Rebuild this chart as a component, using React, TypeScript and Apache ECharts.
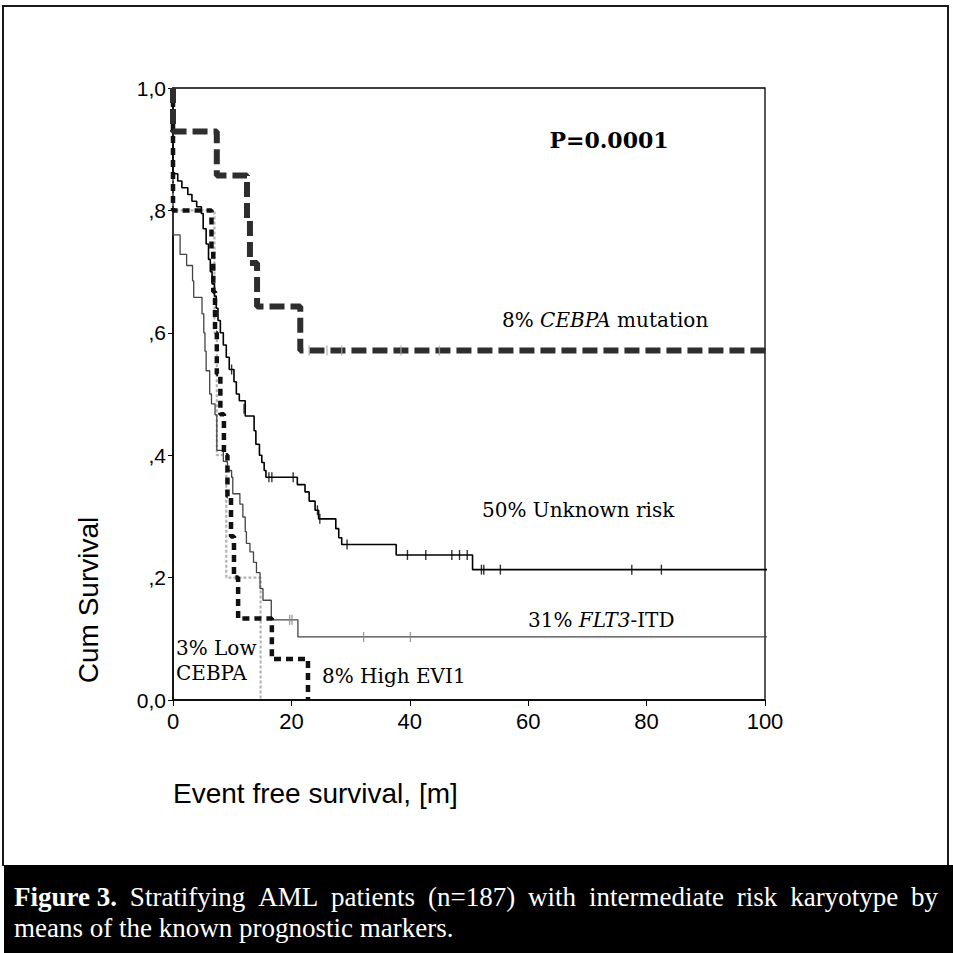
import React, { useEffect, useRef } from "react";
import * as echarts from "echarts";

// ---------------- data ----------------
const xTickValues = [0, 20, 40, 60, 80, 100];
const yTickValues = [0, 0.2, 0.4, 0.6, 0.8, 1.0];
const yTickLabels = ["0,0", ",2", ",4", ",6", ",8", "1,0"];

// 8% CEBPA mutation
const cebpaMutTimes = [0, 0, 7.4, 12.5, 13.0, 14.2, 21.5, 104];
const cebpaMutSurv = [1, 0.929, 0.857, 0.786, 0.714, 0.643, 0.571, 0.571];
const cebpaMutCensorTimes = [23, 26, 28.5, 38.5, 45];
const cebpaMutCensorSurv = [0.571, 0.571, 0.571, 0.571, 0.571];

// 50% Unknown risk
const unknownTimes = [0, 0, 0.8, 1.5, 2.5, 3.2, 4.0, 4.8, 5.1, 5.6, 6.0, 6.3, 6.6, 7.0, 7.3, 7.6, 8.0, 8.5, 9.0, 9.5, 10.3, 10.7, 11.2, 12.2, 13.7, 14.0, 14.6, 15.0, 15.4, 15.7, 21.0, 22.3, 23.0, 24.0, 24.6, 27.5, 28.0, 28.5, 37.7, 50.6, 104];
const unknownSurv = [1, 0.86, 0.848, 0.837, 0.826, 0.815, 0.806, 0.795, 0.77, 0.745, 0.72, 0.70, 0.68, 0.66, 0.64, 0.62, 0.60, 0.58, 0.56, 0.54, 0.52, 0.50, 0.489, 0.464, 0.44, 0.418, 0.40, 0.388, 0.375, 0.364, 0.352, 0.34, 0.325, 0.31, 0.296, 0.28, 0.265, 0.254, 0.237, 0.213, 0.213];
const unknownCensorTimes = [9.9, 12.0, 16.2, 16.7, 20.3, 24.4, 24.8, 29.4, 39.6, 42.7, 47.1, 48.4, 49.7, 52.1, 52.5, 55.3, 77.5, 82.5];
const unknownCensorSurv = [0.54, 0.476, 0.364, 0.364, 0.364, 0.31, 0.296, 0.254, 0.237, 0.237, 0.237, 0.237, 0.237, 0.213, 0.213, 0.213, 0.213, 0.213];

// 31% FLT3-ITD
const flt3Times = [0, 0, 1.2, 2.3, 3.3, 3.5, 4.9, 5.2, 5.4, 5.6, 6.2, 6.5, 7.1, 7.4, 8.5, 9.2, 9.9, 10.1, 11.3, 11.8, 12.2, 12.4, 13.0, 13.6, 14.1, 14.7, 15.2, 16.6, 21.1, 104];
const flt3Surv = [1, 0.76, 0.728, 0.71, 0.685, 0.658, 0.631, 0.60, 0.57, 0.538, 0.50, 0.484, 0.466, 0.408, 0.39, 0.375, 0.364, 0.337, 0.32, 0.299, 0.275, 0.256, 0.242, 0.225, 0.208, 0.182, 0.163, 0.131, 0.103, 0.103];
const flt3CensorTimes = [19.7, 20.1, 32.2, 40.1];
const flt3CensorSurv = [0.131, 0.131, 0.103, 0.103];

// 3% Low CEBPA
const lowCebpaTimes = [0, 0, 7.0, 7.4, 9.0, 14.8];
const lowCebpaSurv = [1, 0.8, 0.6, 0.4, 0.2, 0];

// 8% High EVI1
const evi1Times = [0, 0, 6.5, 6.8, 7.1, 7.4, 8.0, 8.6, 9.2, 9.8, 10.3, 11.0, 16.7, 22.8];
const evi1Surv = [1, 0.8, 0.733, 0.667, 0.6, 0.533, 0.467, 0.4, 0.333, 0.267, 0.2, 0.133, 0.067, 0];

const captionLine1 = ["Figure 3.", "Stratifying", "AML", "patients", "(n=187)", "with", "intermediate", "risk", "karyotype", "by"];
const captionLine2 = "means of the known prognostic markers.";

// ---------------- helpers ----------------
const zip = (a: number[], b: number[]) => a.map((t, i) => [t, b[i]]);

const SERIF = '"DejaVu Serif", serif';
const SANS = '"Liberation Sans", Arial, sans-serif';
const CAP = '"Liberation Serif", "Times New Roman", serif';

function measure(text: string, font: string): number {
  const c = document.createElement("canvas");
  const ctx = c.getContext("2d");
  if (!ctx) return text.length * 11;
  ctx.font = font;
  return ctx.measureText(text).width;
}

function captionGraphics() {
  const left = 14;
  const right = 938;
  const y1 = 897;
  const y2 = 928;
  const fs = 27;
  const boldFont = `bold ${fs}px ${CAP}`;
  const normFont = `${fs}px ${CAP}`;
  const widths = captionLine1.map((w, i) => measure(w, i === 0 ? boldFont : normFont));
  const total = widths.reduce((s, w) => s + w, 0);
  const gap = Math.max(4, (right - left - total) / (captionLine1.length - 1));
  const els: any[] = [];
  let x = left;
  captionLine1.forEach((w, i) => {
    els.push({
      type: "text",
      x,
      y: y1,
      silent: true,
      z: 20,
      style: {
        text: w,
        font: i === 0 ? boldFont : normFont,
        fill: "#fff",
        align: "left",
        verticalAlign: "middle",
        textAlign: "left",
        textVerticalAlign: "middle",
      },
    });
    x += widths[i] + gap;
  });
  els.push({
    type: "text",
    x: left,
    y: y2,
    silent: true,
    z: 20,
    style: {
      text: captionLine2,
      font: normFont,
      fill: "#fff",
      align: "left",
      verticalAlign: "middle",
      textAlign: "left",
      textVerticalAlign: "middle",
    },
  });
  return els;
}

function label(text: string, x: number, y: number, font: string, align = "left", rich?: any, rotation = 0) {
  return {
    type: "text",
    x,
    y,
    rotation,
    silent: true,
    z: 10,
    style: {
      text,
      font,
      fill: "#000",
      align,
      verticalAlign: "middle",
      textAlign: align,
      textVerticalAlign: "middle",
      rich,
    },
  };
}

function frameLine(x1: number, y1: number, x2: number, y2: number) {
  return {
    type: "line",
    silent: true,
    z: 1,
    shape: { x1, y1, x2, y2 },
    style: { stroke: "#1a1a1a", lineWidth: 2 },
  };
}

export default function App() {
  const ref = useRef<HTMLDivElement>(null);

  useEffect(() => {
    if (!ref.current) return;
    const chart = echarts.init(ref.current, undefined, { renderer: "svg" });

    const italicRich = {
      a: { font: `20px ${SERIF}`, fill: "#000" },
      i: { font: `italic 20px ${SERIF}`, fill: "#000" },
    };

    const stepLine = (name: string, data: number[][], lineStyle: any, z = 2) => ({
      name,
      type: "line",
      step: "end",
      data,
      showSymbol: false,
      symbol: "none",
      clip: false,
      z,
      lineStyle,
      emphasis: { disabled: true },
    });

    const censor = (name: string, data: number[][], color: string) => ({
      name,
      type: "scatter",
      data,
      symbol: "rect",
      symbolSize: [1.4, 10],
      itemStyle: { color },
      z: 6,
      silent: true,
    });

    const option: any = {
      animation: false,
      backgroundColor: "#fff",
      grid: {
        left: 173,
        top: 88,
        right: 188,
        bottom: 253,
        show: true,
        borderColor: "#000",
        borderWidth: 1.3,
        backgroundColor: "transparent",
      },
      xAxis: {
        type: "value",
        min: 0,
        max: 100,
        interval: 20,
        axisLine: { show: true, onZero: false, lineStyle: { color: "#000", width: 1.5 } },
        axisTick: { show: true, length: 6, lineStyle: { color: "#000" } },
        splitLine: { show: false },
        axisLabel: {
          color: "#000",
          fontSize: 22,
          fontFamily: SANS,
          margin: 10,
          formatter: (v: number) => (xTickValues.includes(v) ? String(v) : ""),
        },
      },
      yAxis: {
        type: "value",
        min: 0,
        max: 1,
        interval: 0.2,
        axisLine: { show: true, onZero: false, lineStyle: { color: "#000", width: 1.5 } },
        axisTick: { show: true, length: 5, lineStyle: { color: "#000" } },
        splitLine: { show: false },
        axisLabel: {
          color: "#000",
          fontSize: 21,
          fontFamily: SANS,
          margin: 7,
          formatter: (v: number) => {
            const idx = yTickValues.findIndex((t) => Math.abs(t - v) < 1e-6);
            return idx >= 0 ? yTickLabels[idx] : "";
          },
        },
      },
      series: [
        stepLine("3% Low CEBPA", zip(lowCebpaTimes, lowCebpaSurv), { color: "#b4b4b4", width: 2.2, type: [3, 2] }, 2),
        stepLine("31% FLT3-ITD", zip(flt3Times, flt3Surv), { color: "#444444", width: 1.3 }, 3),
        stepLine("50% Unknown risk", zip(unknownTimes, unknownSurv), { color: "#000000", width: 1.6 }, 4),
        stepLine("8% High EVI1", zip(evi1Times, evi1Surv), { color: "#111111", width: 4.5, type: [7, 5] }, 5),
        stepLine("8% CEBPA mutation", zip(cebpaMutTimes, cebpaMutSurv), { color: "#2e2e2e", width: 6, type: [15, 6] }, 5),
        censor("unknown censored", zip(unknownCensorTimes, unknownCensorSurv), "#000"),
        censor("flt3 censored", zip(flt3CensorTimes, flt3CensorSurv), "#888"),
        censor("cebpa censored", zip(cebpaMutCensorTimes, cebpaMutCensorSurv), "#aaa"),
      ],
      graphic: [
        frameLine(3, 6, 948, 6),
        frameLine(3, 5, 3, 866),
        frameLine(948, 5, 948, 866),
        {
          type: "rect",
          silent: true,
          z: 2,
          shape: { x: 4, y: 865, width: 949, height: 88 },
          style: { fill: "#000" },
        },
        ...captionGraphics(),
        label("P=0.0001", 609, 140, `bold 22px ${SERIF}`, "center"),
        label("{a|8% }{i|CEBPA}{a| mutation}", 502, 320, `20px ${SERIF}`, "left", italicRich),
        label("50% Unknown risk", 482, 510, `20px ${SERIF}`),
        label("{a|31% }{i|FLT3}{a|-ITD}", 528, 620, `20px ${SERIF}`, "left", italicRich),
        label("3% Low", 176, 648, `20px ${SERIF}`),
        label("CEBPA", 176, 673, `20px ${SERIF}`),
        label("8% High EVI1", 322, 676, `20px ${SERIF}`),
        label("Event free survival, [m]", 173, 793, `28px ${SANS}`),
        label("Cum Survival", 88, 600, `28px ${SANS}`, "center", undefined, Math.PI / 2),
      ],
    };

    chart.setOption(option);
    return () => chart.dispose();
  }, []);

  return (
    <div
      ref={ref}
      style={{ position: "fixed", left: 0, top: 0, width: 953, height: 953 }}
    />
  );
}
